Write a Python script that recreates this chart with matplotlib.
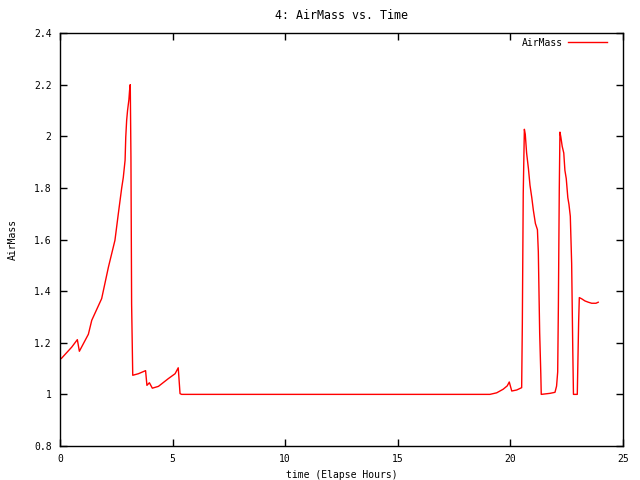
import matplotlib
matplotlib.use("Agg")
import matplotlib.pyplot as plt

# elapsed hours and airmass
hours = [0.0, 0.07, 0.52, 0.77, 0.86, 1.26, 1.41, 1.85, 2.15, 2.44, 2.59, 2.74,
         2.81, 2.89, 2.92, 2.96, 3.0, 3.06, 3.09, 3.12, 3.15, 3.18, 3.23, 3.48,
         3.75, 3.8, 3.86, 3.97, 4.1, 4.37, 4.81, 5.11, 5.25, 5.33, 5.4,
         19.02, 19.09, 19.39, 19.68, 19.86, 19.95, 20.06, 20.28, 20.5, 20.53,
         20.57, 20.62, 20.66, 20.72, 20.8, 20.87, 20.95, 21.02, 21.11, 21.2,
         21.24, 21.27, 21.3, 21.35, 21.37, 21.76, 21.98, 22.05, 22.1, 22.13,
         22.17, 22.2, 22.24, 22.3, 22.37, 22.42, 22.48, 22.55, 22.6, 22.66,
         22.72, 22.77, 22.8, 22.97, 22.99, 23.03, 23.06, 23.17, 23.31, 23.46,
         23.61, 23.8, 23.9]
airmass = [1.136, 1.14, 1.183, 1.212, 1.167, 1.233, 1.287, 1.371, 1.493, 1.597,
           1.70, 1.80, 1.84, 1.907, 1.997, 2.062, 2.10, 2.142, 2.178, 2.20, 1.92,
           1.35, 1.074, 1.08, 1.09, 1.092, 1.035, 1.045, 1.024, 1.031, 1.061,
           1.08, 1.103, 1.003, 1.0,
           1.0, 1.0, 1.006, 1.02, 1.033, 1.048, 1.013, 1.017, 1.026, 1.274,
           1.778, 2.027, 2.008, 1.935, 1.875, 1.81, 1.762, 1.713, 1.662, 1.638,
           1.552, 1.393, 1.238, 1.08, 1.0, 1.004, 1.008, 1.032, 1.087, 1.338,
           1.79, 2.016, 1.997, 1.961, 1.935, 1.868, 1.836, 1.762, 1.736, 1.69,
           1.507, 1.171, 1.0, 1.0, 1.093, 1.28, 1.375, 1.37, 1.362, 1.357,
           1.353, 1.353, 1.357]

x_ticks = [0, 5, 10, 15, 20, 25]
y_ticks = [0.8, 1.0, 1.2, 1.4, 1.6, 1.8, 2.0, 2.2, 2.4]
y_labels = ["0.8", "1", "1.2", "1.4", "1.6", "1.8", "2", "2.2", "2.4"]

plt.rcParams['font.family'] = ['DejaVu Sans Mono']
plt.rcParams['font.size'] = 7

fig = plt.figure(figsize=(6.4, 4.8), dpi=100)
ax = fig.add_axes([60 / 640, 34 / 480, 563 / 640, 413 / 480])

ax.plot(hours, airmass, color='red', linewidth=1, label='AirMass')

ax.set_xlim(0, 25)
ax.set_ylim(0.8, 2.4)
ax.set_xticks(x_ticks)
ax.set_yticks(y_ticks)
ax.set_yticklabels(y_labels)
ax.tick_params(direction='in', top=True, right=True, length=5, width=1, pad=6)
for s in ax.spines.values():
    s.set_linewidth(1)

ax.set_title('4: AirMass vs. Time', pad=10)
ax.set_xlabel('time (Elapse Hours)', labelpad=4)
ax.set_ylabel('AirMass', labelpad=12)

ax.legend(loc='upper right', bbox_to_anchor=(0.984, 1.005), frameon=False,
          markerfirst=False, handlelength=4.0, borderaxespad=0.3,
          handletextpad=0.6)

fig.savefig('out.png', dpi=100)
